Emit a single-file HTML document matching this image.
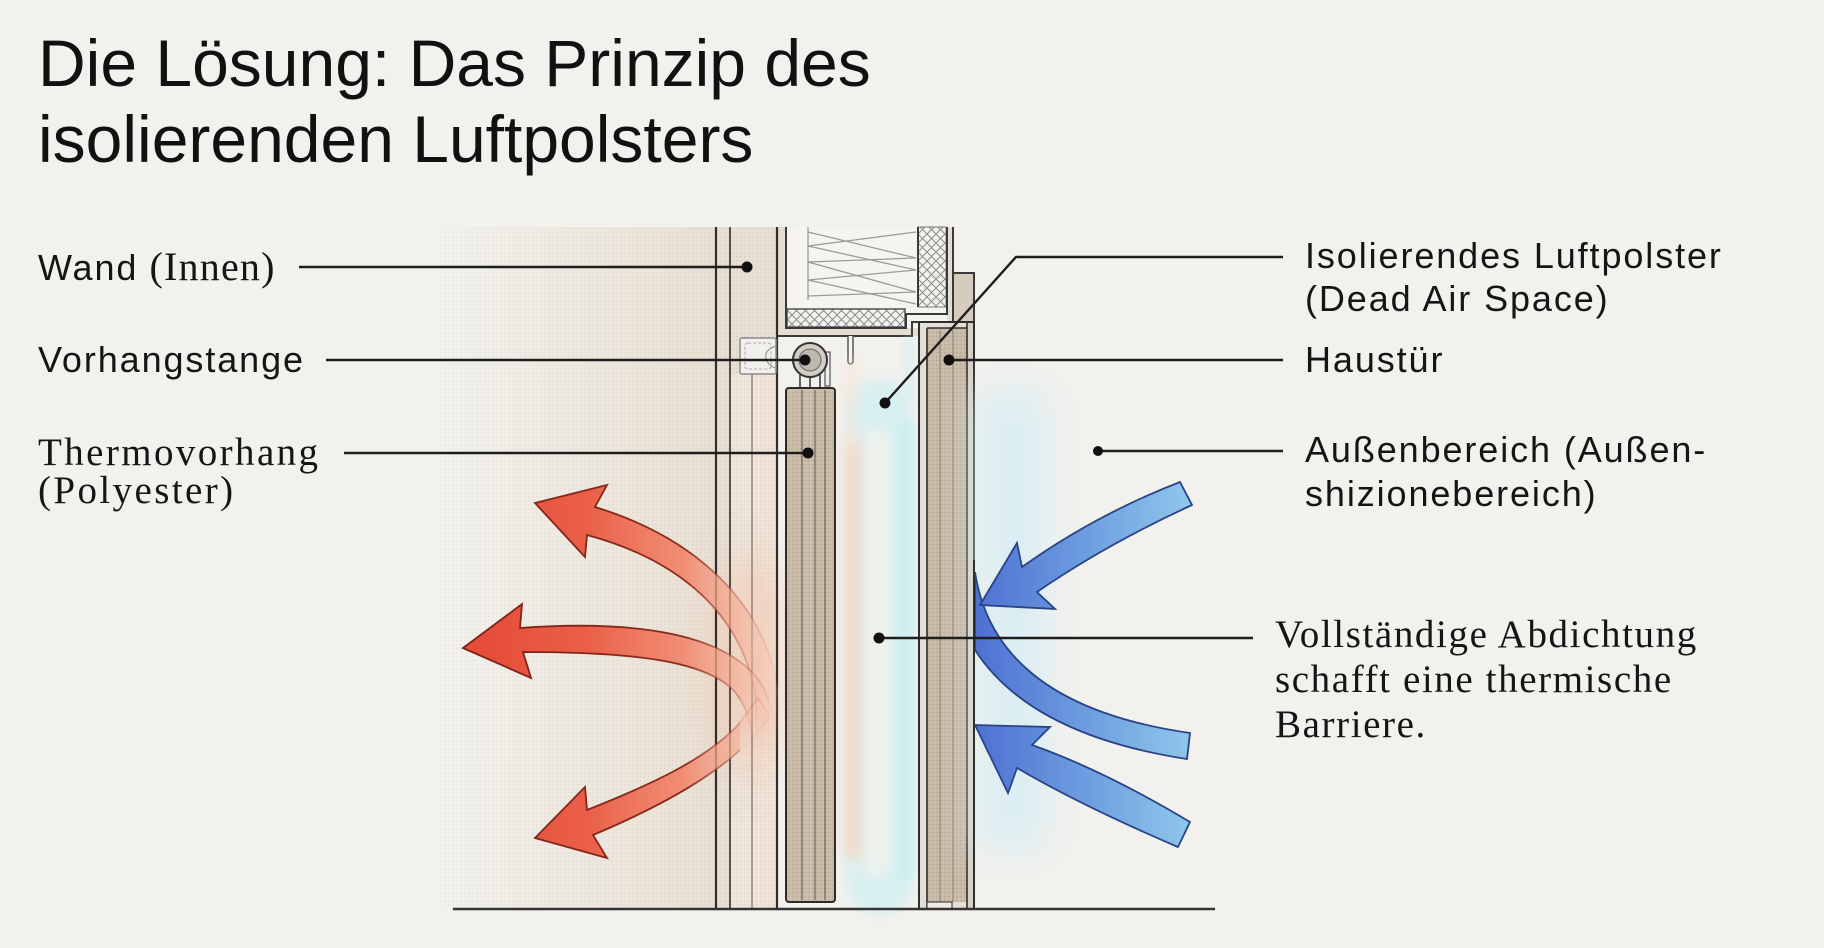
<!DOCTYPE html>
<html><head><meta charset="utf-8"><style>
html,body{margin:0;padding:0;background:#f2f1ed;}
svg{display:block;}
.sans{font-family:"Liberation Sans",Arial,sans-serif;}
.serif{font-family:"Liberation Serif","Times New Roman",serif;}
</style></head><body>
<svg width="1824" height="948" viewBox="0 0 1824 948" xmlns="http://www.w3.org/2000/svg">
<defs>
  <linearGradient id="leftBg" x1="440" y1="0" x2="716" y2="0" gradientUnits="userSpaceOnUse">
    <stop offset="0" stop-color="#f2f1ed"/>
    <stop offset="0.35" stop-color="#efebe3"/>
    <stop offset="1" stop-color="#e8dfd2"/>
  </linearGradient>
  <linearGradient id="redG" x1="460" y1="0" x2="780" y2="0" gradientUnits="userSpaceOnUse">
    <stop offset="0" stop-color="#e54a36"/>
    <stop offset="0.4" stop-color="#ea5f48"/>
    <stop offset="0.7" stop-color="#f08a70" stop-opacity="0.95"/>
    <stop offset="0.85" stop-color="#f4a88f" stop-opacity="0.7"/>
    <stop offset="1" stop-color="#f7c4ae" stop-opacity="0.15"/>
  </linearGradient>
  <linearGradient id="redS" x1="460" y1="0" x2="780" y2="0" gradientUnits="userSpaceOnUse">
    <stop offset="0" stop-color="#7c2217"/>
    <stop offset="0.7" stop-color="#8a2a1c"/>
    <stop offset="0.85" stop-color="#9a3a2a" stop-opacity="0.4"/>
    <stop offset="1" stop-color="#9a3a2a" stop-opacity="0"/>
  </linearGradient>
  <linearGradient id="redV" x1="0" y1="690" x2="0" y2="752" gradientUnits="userSpaceOnUse">
    <stop offset="0" stop-color="#fff" stop-opacity="1"/>
    <stop offset="1" stop-color="#fff" stop-opacity="0"/>
  </linearGradient>
  <mask id="redMask" maskUnits="userSpaceOnUse" x="0" y="0" width="1824" height="948">
    <rect x="0" y="0" width="1824" height="690" fill="#fff"/>
    <rect x="0" y="690" width="740" height="258" fill="#fff"/>
    <rect x="740" y="690" width="60" height="62" fill="url(#redV)"/>
  </mask>
  <linearGradient id="blueG" x1="975" y1="0" x2="1195" y2="0" gradientUnits="userSpaceOnUse">
    <stop offset="0" stop-color="#4e70d2"/>
    <stop offset="0.5" stop-color="#6d9ddf"/>
    <stop offset="1" stop-color="#90c9ec"/>
  </linearGradient>
  <pattern id="hatch" width="9" height="9" patternUnits="userSpaceOnUse">
    <rect width="9" height="9" fill="#f3f2ee"/>
    <path d="M0,0 L9,9 M9,0 L0,9" stroke="#8c8c8c" stroke-width="1"/>
  </pattern>
  <pattern id="dots" width="4" height="4" patternUnits="userSpaceOnUse">
    <rect x="0" y="0" width="1.3" height="1.3" fill="#000" fill-opacity="0.10"/>
    <rect x="2" y="2" width="1.3" height="1.3" fill="#fff" fill-opacity="0.18"/>
  </pattern>
  <filter id="b4" x="-50%" y="-50%" width="200%" height="200%"><feGaussianBlur stdDeviation="4"/></filter>
  <filter id="b6" x="-50%" y="-50%" width="200%" height="200%"><feGaussianBlur stdDeviation="6"/></filter>
  <filter id="b10" x="-50%" y="-50%" width="200%" height="200%"><feGaussianBlur stdDeviation="10"/></filter>
  <filter id="b20" x="-50%" y="-50%" width="200%" height="200%"><feGaussianBlur stdDeviation="20"/></filter>
</defs>

<!-- title -->
<text class="sans" x="38" y="86" font-size="66" fill="#111">Die Lösung: Das Prinzip des</text>
<text class="sans" x="38" y="162" font-size="66" fill="#111">isolierenden Luftpolsters</text>

<!-- left background gradient -->
<rect x="440" y="227" width="276" height="682" fill="url(#leftBg)"/>
<rect x="440" y="227" width="276" height="682" fill="url(#dots)" opacity="0.5"/>

<!-- wall -->
<rect x="716" y="227" width="61" height="682" fill="#e7dfd2"/>
<rect x="730" y="374" width="22" height="535" fill="#ece5da"/>
<rect x="752" y="374" width="25" height="535" fill="#efe3d5"/>
<rect x="716" y="227" width="61" height="682" fill="url(#dots)" opacity="0.6"/>
<ellipse cx="748" cy="665" rx="38" ry="115" fill="#f5c6b0" opacity="0.6" filter="url(#b20)"/>

<!-- header -->
<rect x="777" y="227" width="176" height="109" fill="#e5ddd0"/>
<rect x="786" y="227" width="161" height="101" fill="#f5f4f0"/>
<rect x="787" y="309" width="118" height="18" fill="url(#hatch)" stroke="#555" stroke-width="1.5"/>
<rect x="918" y="227" width="28" height="80" fill="url(#hatch)" stroke="#777" stroke-width="1"/>
<g stroke="#9a9a9a" stroke-width="1.3" fill="none">
  <path d="M808,232 L916,258 L808,262 L916,292 L808,296"/>
  <path d="M916,232 L808,246 L916,270 L808,280 L916,304"/>
  <line x1="808" y1="227" x2="808" y2="300"/>
</g>
<g stroke="#3a3a3a" stroke-width="2" fill="none">
  <path d="M786,227 V328 H906 V314 H947 V227"/>
  <path d="M777,336 H912 V322 H953 V227"/>
  <line x1="918" y1="227" x2="918" y2="307"/>
</g>
<rect x="953" y="273" width="21" height="49" fill="#d6ccbd" stroke="#3a3a3a" stroke-width="2"/>
<!-- stub -->
<path d="M848,336 V362 Q850.5,366 853,362 V336" fill="#f5f4f0" stroke="#555" stroke-width="1.5"/>

<!-- wall lines -->
<g stroke="#2e2e2e" fill="none">
  <line x1="716" y1="227" x2="716" y2="909" stroke-width="2.2"/>
  <line x1="730" y1="227" x2="730" y2="909" stroke-width="1.6"/>
  <line x1="752" y1="374" x2="752" y2="909" stroke-width="1.1" stroke="#666"/>
  <line x1="777" y1="227" x2="777" y2="909" stroke-width="2.2"/>
</g>

<!-- bracket -->
<rect x="740" y="338" width="36" height="36" rx="2" fill="#f1f0ec" stroke="#8a8a8a" stroke-width="1.5"/>
<rect x="745" y="343" width="26" height="26" rx="3" fill="none" stroke="#aaa" stroke-width="1" stroke-dasharray="3,2"/>
<path d="M776,346 Q764,350 766,358 Q768,366 776,368" fill="none" stroke="#999" stroke-width="1.2"/>

<!-- air glow (capsule) -->
<rect x="905" y="338" width="8" height="60" fill="#cdeff2" opacity="0.6" filter="url(#b4)"/>
<rect x="846" y="378" width="67" height="537" rx="33" fill="#c8eff3" opacity="0.62" filter="url(#b6)"/>
<rect x="862" y="428" width="30" height="450" rx="15" fill="#f2f3ee" opacity="0.8" filter="url(#b6)"/>
<rect x="844" y="440" width="18" height="420" rx="9" fill="#f9d3bc" opacity="0.7" filter="url(#b6)"/>
<rect x="844" y="360" width="14" height="90" fill="#fbe2d2" opacity="0.5" filter="url(#b6)"/>
<rect x="898" y="420" width="15" height="460" fill="#c3eef2" opacity="0.55" filter="url(#b4)"/>

<!-- curtain rod -->
<g stroke="#333" stroke-width="1.5">
  <line x1="800" y1="372" x2="800" y2="389"/>
  <line x1="810" y1="376" x2="810" y2="389"/>
  <line x1="820" y1="372" x2="820" y2="389"/>
</g>
<rect x="825" y="352" width="5" height="34" fill="#eee" stroke="#555" stroke-width="1.2"/>
<circle cx="810" cy="360" r="17" fill="#d2cec6" stroke="#333" stroke-width="2"/>
<circle cx="810" cy="360" r="11" fill="#bdb8b0" stroke="#666" stroke-width="1"/>

<!-- curtain -->
<rect x="786" y="388" width="49" height="514" rx="3" fill="#c8bba7" stroke="#2f2a25" stroke-width="2"/>
<rect x="787" y="389" width="47" height="512" fill="url(#dots)"/>
<g stroke="#6f6455" stroke-width="1.2">
  <line x1="802" y1="390" x2="802" y2="900"/>
  <line x1="815" y1="390" x2="815" y2="900"/>
  <line x1="825" y1="390" x2="825" y2="900"/>
</g>

<!-- door -->
<rect x="919" y="322" width="55" height="587" fill="#e4dfd6"/>
<rect x="927" y="328" width="40" height="574" fill="#c8baa6"/>
<rect x="967" y="322" width="7" height="587" fill="#d9d0c3"/>
<rect x="927" y="328" width="40" height="574" fill="url(#dots)"/>
<g stroke="#2e2e2e" fill="none">
  <line x1="919" y1="322" x2="919" y2="909" stroke-width="2"/>
  <line x1="927" y1="328" x2="927" y2="909" stroke-width="1.6"/>
  <line x1="967" y1="322" x2="967" y2="909" stroke-width="1.6"/>
  <line x1="974" y1="322" x2="974" y2="909" stroke-width="2"/>
  <line x1="919" y1="322" x2="974" y2="322" stroke-width="2"/>
  <line x1="927" y1="328" x2="967" y2="328" stroke-width="1.5"/>
  <line x1="940" y1="330" x2="940" y2="902" stroke-width="1" stroke="#8b7f6f"/>
  <line x1="953" y1="330" x2="953" y2="902" stroke-width="1" stroke="#8b7f6f"/>
</g>
<rect x="927" y="902" width="25" height="7" fill="#eeeae3" stroke="#444" stroke-width="1.2"/>

<!-- right blue haze -->
<rect x="976" y="390" width="70" height="460" fill="#d3edf5" opacity="0.75" filter="url(#b20)"/>

<!-- red arrows -->
<g fill="url(#redG)" stroke="url(#redS)" stroke-width="1.8" stroke-linejoin="miter" mask="url(#redMask)">
  <path d="M535,503 L607,485 L595,507 C680,533 762,590 778,690 L779,745 L757,745 L756,700 C744,615 680,560 587,535 L585,557 Z"/>
  <path d="M463,648 L522,604 L520,628 C630,620 725,632 760,682 C772,702 776,725 776,752 L753,752 C753,728 748,708 735,692 C708,662 640,652 523,652 L531,678 Z"/>
  <path d="M535,838 L585,787 L587,810 C650,785 705,760 738,725 L758,698 L770,716 C748,750 700,790 593,835 L607,858 Z"/>
</g>

<!-- blue arrows -->
<g fill="url(#blueG)" stroke="#284485" stroke-width="1.8" stroke-linejoin="miter">
  <path d="M975,572 Q995,705 1190,733 L1187,759 Q1030,735 975,650 Z"/>
  <path d="M980,605 L1017,543 L1022,567 Q1095,515 1180,482 L1192,505 Q1105,545 1037,592 L1055,609 Z"/>
  <path d="M975,725 L1050,727 L1032,745 Q1103,770 1190,822 L1178,847 Q1082,806 1017,768 L1008,793 Z"/>
</g>
<line x1="974" y1="560" x2="974" y2="909" stroke="#2e2e2e" stroke-width="2"/>

<!-- floor -->
<line x1="453" y1="909" x2="1215" y2="909" stroke="#333" stroke-width="2.5"/>

<!-- leader lines -->
<g stroke="#1e1e1e" stroke-width="2.4" fill="none">
  <line x1="299" y1="267" x2="747" y2="267"/>
  <line x1="326" y1="360" x2="805" y2="360"/>
  <line x1="344" y1="453" x2="808" y2="453"/>
  <polyline points="885,403 1016,257 1283,257"/>
  <line x1="949" y1="360" x2="1283" y2="360"/>
  <line x1="1098" y1="451" x2="1283" y2="451"/>
  <line x1="879" y1="638" x2="1253" y2="638"/>
</g>
<g fill="#111">
  <circle cx="747" cy="267" r="5.5"/>
  <circle cx="805" cy="360" r="5.5"/>
  <circle cx="808" cy="453" r="5.5"/>
  <circle cx="885" cy="403" r="5.5"/>
  <circle cx="949" cy="360" r="5.5"/>
  <circle cx="1098" cy="451" r="5"/>
  <circle cx="879" cy="638" r="5.5"/>
</g>

<!-- left labels -->
<text x="38" y="280" fill="#151515"><tspan class="sans" font-size="36" letter-spacing="1.9">Wand</tspan><tspan class="serif" font-size="40" letter-spacing="1.2"> (Innen)</tspan></text>
<text class="sans" x="38" y="372" font-size="36" fill="#151515" letter-spacing="1.9">Vorhangstange</text>
<text class="serif" x="38" y="465" font-size="39" fill="#151515" letter-spacing="2.4">Thermovorhang</text>
<text class="serif" x="38" y="503" font-size="39" fill="#151515" letter-spacing="2.4">(Polyester)</text>

<!-- right labels -->
<text class="sans" x="1305" y="268" font-size="36" fill="#151515" letter-spacing="1.9">Isolierendes Luftpolster</text>
<text class="sans" x="1305" y="311" font-size="36" fill="#151515" letter-spacing="1.9">(Dead Air Space)</text>
<text class="sans" x="1305" y="372" font-size="36" fill="#151515" letter-spacing="1.9">Haustür</text>
<text class="sans" x="1305" y="462" font-size="36" fill="#151515" letter-spacing="1.9">Außenbereich (Außen-</text>
<text class="sans" x="1305" y="506" font-size="36" fill="#151515" letter-spacing="1.9">shizionebereich)</text>
<text class="serif" x="1275" y="647" font-size="39" fill="#151515" letter-spacing="1.6">Vollständige Abdichtung</text>
<text class="serif" x="1275" y="692" font-size="39" fill="#151515" letter-spacing="1.6">schafft eine thermische</text>
<text class="serif" x="1275" y="737" font-size="39" fill="#151515" letter-spacing="1.6">Barriere.</text>
</svg>
</body></html>
